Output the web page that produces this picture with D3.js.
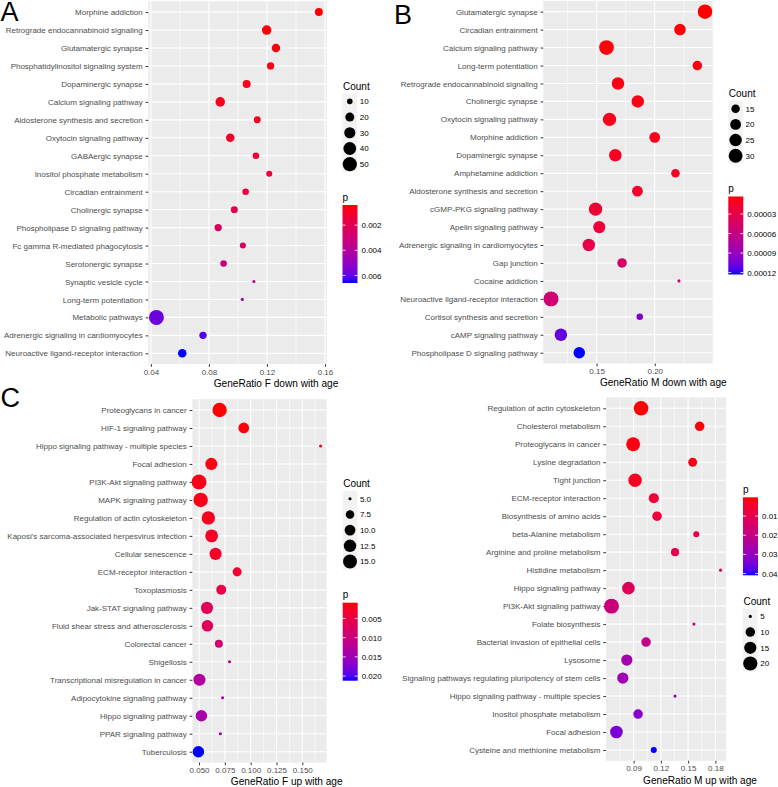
<!DOCTYPE html>
<html>
<head>
<meta charset="utf-8">
<script src="https://cdn.jsdelivr.net/npm/d3@7"></script>
<style>
  body { margin: 0; background: #fff; }
  text { font-family: "Liberation Sans", Arial, Helvetica, sans-serif; }
</style>
</head>
<body>
<svg id="fig" width="778" height="787"></svg>
<script>
// ---- panel A : F down with age
const termsA = ["Morphine addiction", "Retrograde endocannabinoid signaling", "Glutamatergic synapse",
  "Phosphatidylinositol signaling system", "Dopaminergic synapse", "Calcium signaling pathway",
  "Aldosterone synthesis and secretion", "Oxytocin signaling pathway", "GABAergic synapse",
  "Inositol phosphate metabolism", "Circadian entrainment", "Cholinergic synapse",
  "Phospholipase D signaling pathway", "Fc gamma R-mediated phagocytosis", "Serotonergic synapse",
  "Synaptic vesicle cycle", "Long-term potentiation", "Metabolic pathways",
  "Adrenergic signaling in cardiomyocytes", "Neuroactive ligand-receptor interaction"];
const ratioA = [0.1558, 0.1198, 0.1262, 0.1225, 0.1060, 0.0878, 0.1133, 0.0947, 0.1124, 0.1216,
  0.1053, 0.0975, 0.0864, 0.1034, 0.0901, 0.1110, 0.1030, 0.0438, 0.0759, 0.0616];
const countA = [16, 22, 18, 14, 16, 22, 13, 18, 12, 11, 12, 13, 14, 11, 12, 8, 8, 56, 14, 18];
const pA = [0.0004, 0.0005, 0.0005, 0.0006, 0.0007, 0.0008, 0.0010, 0.0011, 0.0013, 0.0014,
  0.0016, 0.0019, 0.0023, 0.0026, 0.0032, 0.0038, 0.0047, 0.0058, 0.0061, 0.0066];
const xTicksA = [0.04, 0.08, 0.12, 0.16];
const countBreaksA = [10, 20, 30, 40, 50];
const pBreaksA = [0.002, 0.004, 0.006];

// ---- panel B : M down with age
const termsB = ["Glutamatergic synapse", "Circadian entrainment", "Calcium signaling pathway",
  "Long-term potentiation", "Retrograde endocannabinoid signaling", "Cholinergic synapse",
  "Oxytocin signaling pathway", "Morphine addiction", "Dopaminergic synapse", "Amphetamine addiction",
  "Aldosterone synthesis and secretion", "cGMP-PKG signaling pathway", "Apelin signaling pathway",
  "Adrenergic signaling in cardiomyocytes", "Gap junction", "Cocaine addiction",
  "Neuroactive ligand-receptor interaction", "Cortisol synthesis and secretion",
  "cAMP signaling pathway", "Phospholipase D signaling pathway"];
const ratioB = [0.2432, 0.2217, 0.1585, 0.2366, 0.1684, 0.1854, 0.1611, 0.2000, 0.1661, 0.2178,
  0.1851, 0.1491, 0.1523, 0.1433, 0.1719, 0.2208, 0.1108, 0.1871, 0.1193, 0.1351];
const countB = [32, 22, 33, 17, 25, 25, 28, 20, 25, 15, 20, 28, 24, 25, 17, 10, 34, 12, 25, 22];
const pB = [0.000003, 0.000004, 0.000005, 0.000006, 0.000007, 0.000008, 0.000010, 0.000011,
  0.000012, 0.000013, 0.000015, 0.000019, 0.000022, 0.000030, 0.000045, 0.000048, 0.000052,
  0.000100, 0.000110, 0.000123];
const xTicksB = [0.15, 0.20];
const countBreaksB = [15, 20, 25, 30];
const pBreaksB = [0.00003, 0.00006, 0.00009, 0.00012];

// ---- panel C : F up with age
const termsC = ["Proteoglycans in cancer", "HIF-1 signaling pathway",
  "Hippo signaling pathway - multiple species", "Focal adhesion", "PI3K-Akt signaling pathway",
  "MAPK signaling pathway", "Regulation of actin cytoskeleton",
  "Kaposi's sarcoma-associated herpesvirus infection", "Cellular senescence",
  "ECM-receptor interaction", "Toxoplasmosis", "Jak-STAT signaling pathway",
  "Fluid shear stress and atherosclerosis", "Colorectal cancer", "Shigellosis",
  "Transcriptional misregulation in cancer", "Adipocytokine signaling pathway",
  "Hippo signaling pathway", "PPAR signaling pathway", "Tuberculosis"];
const ratioC = [0.0699, 0.0933, 0.1677, 0.0619, 0.0500, 0.0516, 0.0590, 0.0622, 0.0660, 0.0869,
  0.0715, 0.0577, 0.0581, 0.0692, 0.0795, 0.0504, 0.0728, 0.0523, 0.0706, 0.0494];
const countC = [16, 10, 5, 12, 17, 16, 14, 13, 12, 8, 9, 12, 11, 7, 5, 12, 5, 11, 5, 11];
const pC = [0.0009, 0.0012, 0.0014, 0.0016, 0.0018, 0.0020, 0.0022, 0.0025, 0.0028, 0.0032,
  0.0050, 0.0065, 0.0070, 0.0090, 0.0110, 0.0130, 0.0135, 0.0140, 0.0145, 0.0212];
const xTicksC = [0.050, 0.075, 0.100, 0.125, 0.150];
const countBreaksC = [5, 7.5, 10, 12.5, 15];
const pBreaksC = [0.005, 0.010, 0.015, 0.020];

// ---- panel D : M up with age
const termsD = ["Regulation of actin cytoskeleton", "Cholesterol metabolism", "Proteoglycans in cancer",
  "Lysine degradation", "Tight junction", "ECM-receptor interaction", "Biosynthesis of amino acids",
  "beta-Alanine metabolism", "Arginine and proline metabolism", "Histidine metabolism",
  "Hippo signaling pathway", "PI3K-Akt signaling pathway", "Folate biosynthesis",
  "Bacterial invasion of epithelial cells", "Lysosome",
  "Signaling pathways regulating pluripotency of stem cells",
  "Hippo signaling pathway - multiple species", "Inositol phosphate metabolism", "Focal adhesion",
  "Cysteine and methionine metabolism"];
const ratioD = [0.0982, 0.1627, 0.0895, 0.1550, 0.0916, 0.1122, 0.1158, 0.1590, 0.1356, 0.1857,
  0.0843, 0.0656, 0.1564, 0.1037, 0.0825, 0.0781, 0.1356, 0.0949, 0.0711, 0.1122];
const countD = [21, 10, 19, 9, 18, 11, 10, 6, 8, 5, 16, 22, 5, 10, 13, 13, 5, 10, 16, 6];
const pD = [0.0002, 0.0008, 0.0012, 0.0020, 0.0030, 0.0060, 0.0070, 0.0080, 0.0090, 0.0100,
  0.0120, 0.0180, 0.0190, 0.0210, 0.0270, 0.0280, 0.0300, 0.0320, 0.0340, 0.0409];
const xTicksD = [0.09, 0.12, 0.15, 0.18];
const countBreaksD = [5, 10, 15, 20];
const pBreaksD = [0.01, 0.02, 0.03, 0.04];

// layout of the four ggplot panels (pixels)
const panels = [
  { letter: "A", lx: 0.5, ly: 21, terms: termsA, ratio: ratioA, count: countA, p: pA,
    ticks: xTicksA, tickFmt: ".2f", countBreaks: countBreaksA, countFmt: "d", pBreaks: pBreaksA, pFmt: ".3f",
    title: "GeneRatio F down with age", titleX: 276, titleY: 386.5,
    left: 148.3, right: 327, top: 1.3, bottom: 364.1,
    legX: 342.5, countY: 90, barTop: 205 },
  { letter: "B", lx: 394, ly: 23.5, terms: termsB, ratio: ratioB, count: countB, p: pB,
    ticks: xTicksB, tickFmt: ".2f", countBreaks: countBreaksB, countFmt: "d", pBreaks: pBreaksB, pFmt: ".5f",
    title: "GeneRatio M down with age", titleX: 663.3, titleY: 386.3,
    left: 543.3, right: 712.7, top: 0.9, bottom: 363.5,
    legX: 728.3, countY: 97.3, barTop: 196.5 },
  { letter: "C", lx: 0.5, ly: 407, terms: termsC, ratio: ratioC, count: countC, p: pC,
    ticks: xTicksC, tickFmt: ".3f", countBreaks: countBreaksC, countFmt: ".1f", pBreaks: pBreaksC, pFmt: ".3f",
    title: "GeneRatio F up with age", titleX: 286.7, titleY: 784.6,
    left: 192.3, right: 326.7, top: 399.2, bottom: 762.5,
    legX: 342.7, countY: 487.3, barTop: 602.7 },
  { letter: "", lx: 0, ly: 0, terms: termsD, ratio: ratioD, count: countD, p: pD,
    ticks: xTicksD, tickFmt: ".2f", countBreaks: countBreaksD, countFmt: "d", pBreaks: pBreaksD, pFmt: ".2f",
    title: "GeneRatio M up with age", titleX: 700, titleY: 783.5,
    left: 606, right: 726, top: 397.5, bottom: 760.8,
    legX: 743, countY: 605, barTop: 497.3 }
];

const svg = d3.select('#fig');
const defs = svg.append('defs');
const grey30 = '#4D4D4D';
const barW = 15, barH = 78, keyStep = 15.7;

// ggplot scale_size: area ~ rescaled count, size 1..6, converted to px radius
function radiusScale(extent) {
  const t = d3.scaleLinear().domain(extent).range([0, 1]).clamp(true);
  const size = d3.scaleLinear().domain([0, 1]).range([1, 6]);
  return (c) => 0.83 * (size(Math.sqrt(t(c))) * 2.845 + 0.945) / 2;
}

panels.forEach((cfg, i) => {
  const g = svg.append('g');
  const [lo, hi] = d3.extent(cfg.ratio);
  const pad = (hi - lo) * 0.05;
  const x = d3.scaleLinear().domain([lo - pad, hi + pad]).range([cfg.left, cfg.right]);
  const y = d3.scalePoint().domain(cfg.terms).range([cfg.top, cfg.bottom]).padding(0.6);
  const r = radiusScale(d3.extent(cfg.count));
  const pExt = d3.extent(cfg.p);
  const color = d3.scaleLinear().domain(pExt).range(['#FF0000', '#0000FF'])
    .interpolate(d3.interpolateLab);

  // panel background + grid
  g.append('rect').attr('x', cfg.left).attr('y', cfg.top)
    .attr('width', cfg.right - cfg.left).attr('height', cfg.bottom - cfg.top).attr('fill', '#EBEBEB');
  const step = cfg.ticks[1] - cfg.ticks[0];
  const [d0, d1] = x.domain();
  const minor = d3.range(cfg.ticks[0] - step / 2, cfg.ticks[cfg.ticks.length - 1] + step, step)
    .filter(v => v > d0 && v < d1);
  g.selectAll('.minor').data(minor).join('line')
    .attr('x1', d => x(d)).attr('x2', d => x(d)).attr('y1', cfg.top).attr('y2', cfg.bottom)
    .attr('stroke', '#fff').attr('stroke-width', 0.55);
  g.selectAll('.vmaj').data(cfg.ticks).join('line')
    .attr('x1', d => x(d)).attr('x2', d => x(d)).attr('y1', cfg.top).attr('y2', cfg.bottom)
    .attr('stroke', '#fff').attr('stroke-width', 1.1);
  g.selectAll('.hmaj').data(cfg.terms).join('line')
    .attr('x1', cfg.left).attr('x2', cfg.right).attr('y1', d => y(d)).attr('y2', d => y(d))
    .attr('stroke', '#fff').attr('stroke-width', 1.1);

  // axes
  const xa = g.append('g').attr('transform', `translate(0,${cfg.bottom})`)
    .call(d3.axisBottom(x).tickValues(cfg.ticks).tickFormat(d3.format(cfg.tickFmt)).tickSize(2.7).tickPadding(2.1));
  const ya = g.append('g').attr('transform', `translate(${cfg.left},0)`)
    .call(d3.axisLeft(y).tickSize(2.7).tickPadding(2.9));
  [xa, ya].forEach(a => {
    a.select('.domain').remove();
    a.selectAll('.tick line').attr('stroke', '#333').attr('stroke-width', 1);
    a.selectAll('.tick text').attr('fill', grey30).style('font-size', '8px')
      .style('font-family', '"Liberation Sans", Arial, sans-serif');
  });

  // points
  const rows = cfg.terms.map((t, k) => ({ term: t, ratio: cfg.ratio[k], count: cfg.count[k], p: cfg.p[k] }));
  g.selectAll('circle.pt').data(rows).join('circle')
    .attr('cx', d => x(d.ratio)).attr('cy', d => y(d.term)).attr('r', d => r(d.count))
    .attr('fill', d => color(d.p));

  // axis title
  g.append('text').attr('x', cfg.titleX).attr('y', cfg.titleY).attr('text-anchor', 'middle')
    .style('font-size', '10.1px').attr('fill', '#000').text(cfg.title);

  if (cfg.letter) {
    svg.append('text').attr('x', cfg.lx).attr('y', cfg.ly).style('font-size', '27px')
      .attr('fill', '#000').text(cfg.letter);
  }

  // Count legend
  const cl = g.append('g');
  cl.append('text').attr('x', cfg.legX + 0.5).attr('y', cfg.countY).style('font-size', '10px').text('Count');
  cl.selectAll('rect').data(cfg.countBreaks).join('rect')
    .attr('x', cfg.legX).attr('y', (d, k) => cfg.countY + 11.4 + k * keyStep - keyStep / 2)
    .attr('width', 14.5).attr('height', keyStep).attr('fill', '#F2F2F2');
  cl.selectAll('circle').data(cfg.countBreaks).join('circle')
    .attr('cx', cfg.legX + 7.3).attr('cy', (d, k) => cfg.countY + 11.4 + k * keyStep)
    .attr('r', d => r(d)).attr('fill', '#000');
  cl.selectAll('text.lab').data(cfg.countBreaks).join('text').attr('class', 'lab')
    .attr('x', cfg.legX + 17.2).attr('y', (d, k) => cfg.countY + 11.4 + k * keyStep)
    .attr('dy', '0.35em').style('font-size', '8px').text(d => d3.format(cfg.countFmt)(d));

  // p colour bar
  const gid = 'grad' + i;
  const grad = defs.append('linearGradient').attr('id', gid).attr('x1', 0).attr('x2', 0).attr('y1', 0).attr('y2', 1);
  d3.range(0, 1.0001, 0.05).forEach(f => {
    grad.append('stop').attr('offset', f).attr('stop-color', color(d3.quantile(pExt, f)));
  });
  const pl = g.append('g');
  const by = d3.scaleLinear().domain(pExt).range([cfg.barTop, cfg.barTop + barH]);
  pl.append('text').attr('x', cfg.legX).attr('y', cfg.barTop - 4.5).style('font-size', '10px').text('p');
  pl.append('rect').attr('x', cfg.legX).attr('y', cfg.barTop).attr('width', barW).attr('height', barH)
    .attr('fill', `url(#${gid})`);
  pl.append('g').attr('transform', `translate(${cfg.legX + barW},0)`)
    .call(d3.axisRight(by).tickValues(cfg.pBreaks).tickFormat(d3.format(cfg.pFmt)).tickSize(0).tickPadding(4))
    .call(a => a.select('.domain').remove())
    .call(a => a.selectAll('text').attr('fill', '#000').style('font-size', '8px')
      .style('font-family', '"Liberation Sans", Arial, sans-serif'));
  pl.selectAll('line.tk').data(cfg.pBreaks.flatMap(b => [[b, 0], [b, barW - 3]])).join('line')
    .attr('x1', d => cfg.legX + d[1]).attr('x2', d => cfg.legX + d[1] + 3)
    .attr('y1', d => by(d[0])).attr('y2', d => by(d[0])).attr('stroke', '#fff').attr('stroke-width', 0.8);
});
</script>
</body>
</html>
